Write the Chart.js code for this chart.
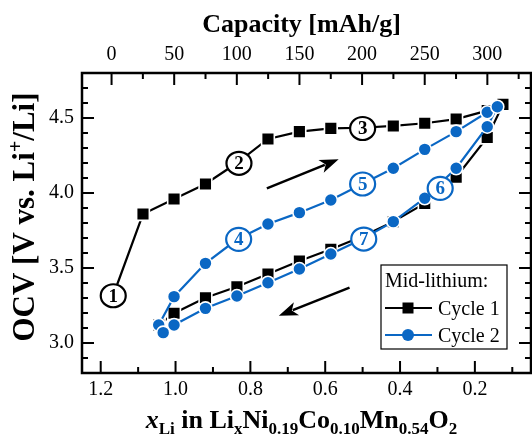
<!DOCTYPE html>
<html>
<head>
<meta charset="utf-8">
<script src="https://cdn.jsdelivr.net/npm/chart.js@4.4.0/dist/chart.umd.min.js"></script>
<style>
  html, body { margin: 0; padding: 0; background: #fff; }
</style>
</head>
<body>
<canvas id="ocv" width="532" height="439"></canvas>
<script>
// Cycle 1 (black squares): charge then discharge, x = Li content, y = OCV (V)
const cycle1X = [1.167, 1.087, 1.004, 0.920, 0.836, 0.753, 0.669, 0.585, 0.501, 0.418, 0.334, 0.250, 0.167, 0.125,
                 0.167, 0.250, 0.334, 0.418, 0.501, 0.585, 0.669, 0.753, 0.836, 0.920, 1.004, 1.045];
const cycle1V = [3.315, 3.86, 3.96, 4.06, 4.20, 4.36, 4.409, 4.431, 4.435, 4.447, 4.465, 4.493, 4.549, 4.591,
                 4.37, 4.105, 3.931, 3.809, 3.71, 3.625, 3.547, 3.46, 3.375, 3.302, 3.198, 3.12];

// Cycle 2 (blue circles)
const cycle2X = [1.045, 1.004, 0.920, 0.836, 0.753, 0.669, 0.585, 0.501, 0.418, 0.334, 0.250, 0.167, 0.140,
                 0.167, 0.250, 0.334, 0.418, 0.501, 0.585, 0.669, 0.753, 0.836, 0.920, 1.004, 1.033];
const cycle2V = [3.12, 3.309, 3.531, 3.69, 3.793, 3.869, 3.953, 4.06, 4.165, 4.291, 4.409, 4.538, 4.575,
                 4.442, 4.165, 3.965, 3.809, 3.693, 3.593, 3.493, 3.402, 3.313, 3.231, 3.12, 3.069];

// axis ticks
const xTicks = [1.2, 1.0, 0.8, 0.6, 0.4, 0.2];
const xMinor = [1.1, 0.9, 0.7, 0.5, 0.3, 0.1];
const capTicks = [0, 50, 100, 150, 200, 250, 300];
const capMinor = [25, 75, 125, 175, 225, 275, 325];
const yTicks = [3.0, 3.5, 4.0, 4.5];
const yMinor = [2.9, 3.1, 3.2, 3.3, 3.4, 3.6, 3.7, 3.8, 3.9, 4.1, 4.2, 4.3, 4.4, 4.6, 4.7];

// capacity axis is linked to x: cap = (capZeroX - x) * capPerX
const capZeroX = 1.171;
const capPerX = 298.7;

// numbered step markers (data coords) and which cycle colour they use
const stepNum = ['1', '2', '3', '4', '5', '6', '7'];
const stepX = [1.1665, 0.8305, 0.500, 0.8313, 0.500, 0.2927, 0.497];
const stepV = [3.315, 4.198, 4.43, 3.691, 4.06, 4.031, 3.693];
const stepCycle = [1, 1, 1, 2, 2, 2, 2];

// direction arrows: tail -> tip (data coords)
const arrowTailX = [0.756, 0.535];
const arrowTailV = [4.031, 3.369];
const arrowTipX = [0.564, 0.724];
const arrowTipV = [4.225, 3.182];

const BLUE = '#0a67c4';
const SERIF = '"Liberation Serif", "Times New Roman", serif';

const toPts = (xs, ys) => xs.map((x, i) => ({ x: x, y: ys[i] }));

function drawRich(ctx, parts, x, y, angle, size) {
  size = size || 26;
  const sub = Math.round(size * 0.65);
  ctx.save();
  ctx.translate(x, y);
  ctx.rotate(angle);
  ctx.textBaseline = 'alphabetic';
  ctx.textAlign = 'left';
  const fontFor = k => {
    if (k === 'i') return 'italic bold ' + size + 'px ' + SERIF;
    if (k === 'sub' || k === 'sup') return 'bold ' + sub + 'px ' + SERIF;
    return 'bold ' + size + 'px ' + SERIF;
  };
  let total = 0;
  parts.forEach(p => { ctx.font = fontFor(p[1]); total += ctx.measureText(p[0]).width; });
  let cx = -total / 2;
  parts.forEach(p => {
    ctx.font = fontFor(p[1]);
    const dy = p[1] === 'sub' ? size * 0.23 : (p[1] === 'sup' ? -size * 0.38 : 0);
    ctx.fillStyle = '#000';
    ctx.fillText(p[0], cx, dy);
    cx += ctx.measureText(p[0]).width;
  });
  ctx.restore();
}

const decorPlugin = {
  id: 'decor',
  afterDatasetsDraw(chart) {
    const ctx = chart.ctx;
    const xs = chart.scales.x, ys = chart.scales.y;

    // arrows
    ctx.save();
    ctx.strokeStyle = '#000';
    ctx.fillStyle = '#000';
    ctx.lineWidth = 2.5;
    arrowTailX.forEach((tx, i) => {
      const x1 = xs.getPixelForValue(tx), y1 = ys.getPixelForValue(arrowTailV[i]);
      const x2 = xs.getPixelForValue(arrowTipX[i]), y2 = ys.getPixelForValue(arrowTipV[i]);
      const ang = Math.atan2(y2 - y1, x2 - x1);
      const hl = 19, hw = 7;
      const bx = x2 - hl * Math.cos(ang), by = y2 - hl * Math.sin(ang);
      ctx.beginPath();
      ctx.moveTo(x1, y1);
      ctx.lineTo(bx + 4 * Math.cos(ang), by + 4 * Math.sin(ang));
      ctx.stroke();
      ctx.beginPath();
      ctx.moveTo(x2, y2);
      ctx.lineTo(bx + hw * Math.sin(ang), by - hw * Math.cos(ang));
      ctx.lineTo(bx + 5 * Math.cos(ang), by + 5 * Math.sin(ang));
      ctx.lineTo(bx - hw * Math.sin(ang), by + hw * Math.cos(ang));
      ctx.closePath();
      ctx.fill();
    });
    ctx.restore();

    // numbered markers
    ctx.save();
    stepNum.forEach((n, i) => {
      const px = xs.getPixelForValue(stepX[i]), py = ys.getPixelForValue(stepV[i]);
      const col = stepCycle[i] === 1 ? '#000' : BLUE;
      ctx.beginPath();
      ctx.ellipse(px, py, 12.5, 11.5, 0, 0, Math.PI * 2);
      ctx.fillStyle = '#fff';
      ctx.fill();
      ctx.lineWidth = 2.2;
      ctx.strokeStyle = col;
      ctx.stroke();
      ctx.fillStyle = col;
      ctx.font = 'bold 19px ' + SERIF;
      ctx.textAlign = 'center';
      ctx.textBaseline = 'middle';
      ctx.fillText(n, px, py + 1);
    });
    ctx.restore();
  },
  afterDraw(chart) {
    const ctx = chart.ctx;
    const a = chart.chartArea;
    const xs = chart.scales.x, ys = chart.scales.y, cs = chart.scales.cap;
    const major = 12, minor = 6;

    ctx.save();
    ctx.strokeStyle = '#000';
    ctx.lineWidth = 2;
    ctx.beginPath();
    const vtick = (px, len) => {
      ctx.moveTo(px, a.bottom); ctx.lineTo(px, a.bottom - len);
    };
    xTicks.forEach(v => vtick(xs.getPixelForValue(v), major));
    xMinor.forEach(v => vtick(xs.getPixelForValue(v), minor));
    const ttick = (px, len) => {
      ctx.moveTo(px, a.top); ctx.lineTo(px, a.top + len);
    };
    capTicks.forEach(v => ttick(cs.getPixelForValue(v), major));
    capMinor.forEach(v => ttick(cs.getPixelForValue(v), minor));
    const htick = (py, len) => {
      ctx.moveTo(a.left, py); ctx.lineTo(a.left + len, py);
      ctx.moveTo(a.right, py); ctx.lineTo(a.right - len, py);
    };
    yTicks.forEach(v => htick(ys.getPixelForValue(v), major));
    yMinor.forEach(v => htick(ys.getPixelForValue(v), minor));
    ctx.stroke();

    // frame
    ctx.lineWidth = 2.5;
    ctx.strokeRect(a.left, a.top, a.right - a.left, a.bottom - a.top);
    ctx.restore();

    // legend box
    ctx.save();
    const bx = a.right - 150, by = a.bottom - 108, bw = 126, bh = 84;
    ctx.fillStyle = '#fff';
    ctx.fillRect(bx, by, bw, bh);
    ctx.lineWidth = 1.2;
    ctx.strokeStyle = '#000';
    ctx.strokeRect(bx, by, bw, bh);
    ctx.fillStyle = '#000';
    ctx.font = '20px ' + SERIF;
    ctx.textBaseline = 'alphabetic';
    ctx.textAlign = 'left';
    ctx.fillText('Mid-lithium:', bx + 4, by + 22);
    const rows = [['Cycle 1', '#000', 'rect'], ['Cycle 2', BLUE, 'circle']];
    rows.forEach((r, i) => {
      const ly = by + 43 + i * 27;
      ctx.strokeStyle = r[1];
      ctx.lineWidth = 2.2;
      ctx.beginPath();
      ctx.moveTo(bx + 4, ly);
      ctx.lineTo(bx + 51, ly);
      ctx.stroke();
      ctx.fillStyle = r[1];
      if (r[2] === 'rect') {
        ctx.fillRect(bx + 27 - 5.5, ly - 5.5, 11, 11);
      } else {
        ctx.beginPath();
        ctx.arc(bx + 27, ly, 6, 0, Math.PI * 2);
        ctx.fill();
      }
      ctx.fillStyle = '#000';
      ctx.fillText(r[0], bx + 57, ly + 7);
    });
    ctx.restore();

    // axis titles
    const cxMid = (a.left + a.right) / 2 - 5;
    drawRich(ctx, [['Capacity [mAh/g]', 'n']], cxMid, 32, 0);
    drawRich(ctx, [
      ['x', 'i'], ['Li', 'sub'], [' in Li', 'n'], ['x', 'sub'], ['Ni', 'n'], ['0.19', 'sub'],
      ['Co', 'n'], ['0.10', 'sub'], ['Mn', 'n'], ['0.54', 'sub'], ['O', 'n'], ['2', 'sub']
    ], cxMid, 428, 0);
    drawRich(ctx, [['OCV [V vs. Li', 'n'], ['+', 'sup'], ['/Li]', 'n']], 34, 217, -Math.PI / 2, 31);
  }
};

const tickFont = { family: SERIF, size: 20 };
const noPad = s => { s.paddingLeft = 0; s.paddingRight = 0; };

new Chart(document.getElementById('ocv'), {
  type: 'line',
  data: {
    datasets: [
      {
        label: 'Cycle 2',
        data: toPts(cycle2X, cycle2V),
        borderColor: BLUE,
        borderWidth: 2.2,
        pointStyle: 'circle',
        pointRadius: 6.5,
        pointBackgroundColor: BLUE,
        pointBorderColor: '#fff',
        pointBorderWidth: 1.6,
        tension: 0,
        order: 0
      },
      {
        label: 'Cycle 1',
        data: toPts(cycle1X, cycle1V),
        borderColor: '#000',
        borderWidth: 2.2,
        pointStyle: 'rect',
        pointRadius: 9,
        pointBackgroundColor: '#000',
        pointBorderColor: '#fff',
        pointBorderWidth: 1.6,
        tension: 0,
        order: 1
      }
    ]
  },
  options: {
    responsive: false,
    animation: false,
    layout: { autoPadding: false, padding: { right: 1, left: 0, top: 0, bottom: 0 } },
    plugins: { legend: { display: false }, tooltip: { enabled: false } },
    scales: {
      x: {
        type: 'linear', position: 'bottom', min: 0.05, max: 1.25, reverse: true,
        grid: { display: false, drawTicks: false }, border: { display: false },
        afterBuildTicks: s => { s.ticks = xTicks.map(v => ({ value: v })); },
        afterFit: s => { s.height = 66; noPad(s); },
        ticks: { padding: 5, font: tickFont, color: '#000', maxRotation: 0, autoSkip: false,
                 callback: v => Number(v).toFixed(1) }
      },
      cap: {
        type: 'linear', position: 'top',
        min: (capZeroX - 1.25) * capPerX, max: (capZeroX - 0.05) * capPerX,
        grid: { display: false, drawTicks: false }, border: { display: false },
        afterBuildTicks: s => { s.ticks = capTicks.map(v => ({ value: v })); },
        afterFit: s => { s.height = 73; noPad(s); },
        ticks: { padding: 6, font: tickFont, color: '#000', maxRotation: 0, autoSkip: false,
                 callback: v => String(v) }
      },
      y: {
        type: 'linear', position: 'left', min: 2.8, max: 4.8,
        grid: { display: false, drawTicks: false }, border: { display: false },
        afterBuildTicks: s => { s.ticks = yTicks.map(v => ({ value: v })); },
        afterFit: s => { s.width = 82; s.paddingTop = 0; s.paddingBottom = 0; },
        ticks: { padding: 8, font: tickFont, color: '#000', autoSkip: false,
                 callback: v => Number(v).toFixed(1) }
      }
    }
  },
  plugins: [decorPlugin]
});
</script>
</body>
</html>
